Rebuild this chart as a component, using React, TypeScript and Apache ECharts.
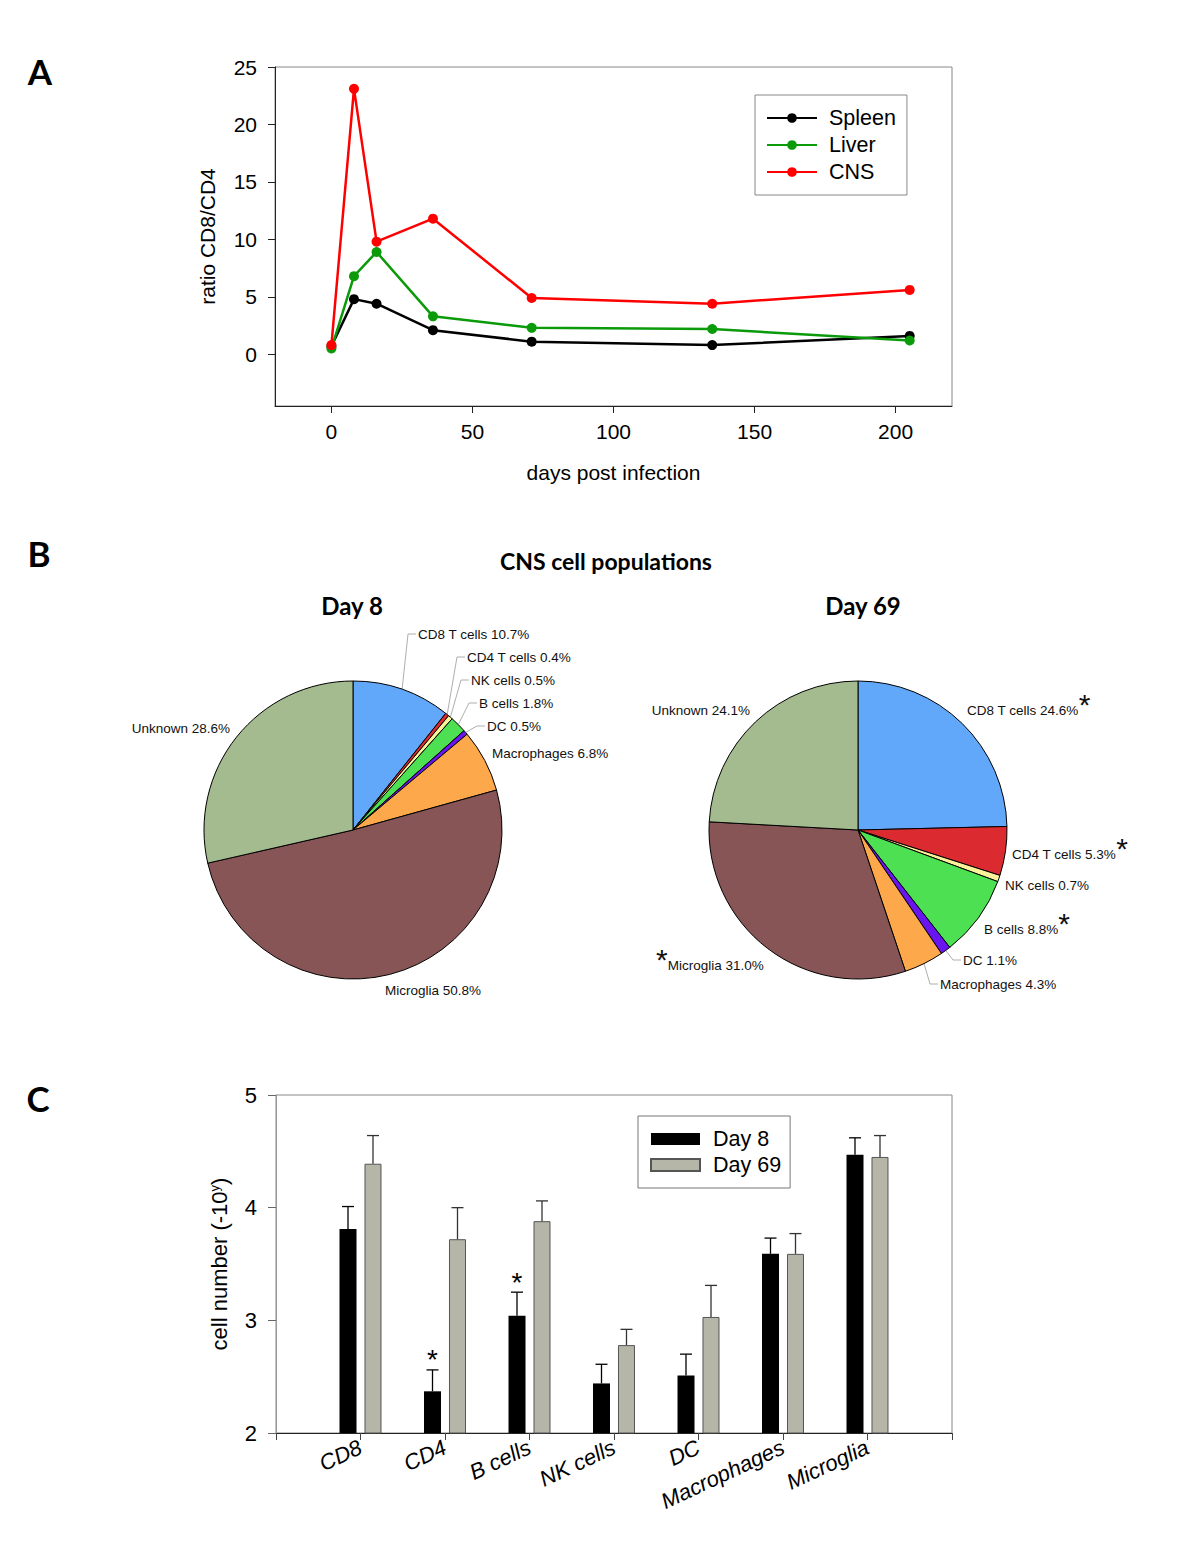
import React, { useEffect, useRef } from 'react';
import * as echarts from 'echarts';

// ---------- Panel A data ----------
const days = [0, 8, 16, 36, 71, 135, 205];
const spleen = [0.7, 4.8, 4.4, 2.1, 1.1, 0.8, 1.6];
const liver = [0.5, 6.8, 8.9, 3.3, 2.3, 2.2, 1.2];
const cns = [0.8, 23.1, 9.8, 11.8, 4.9, 4.4, 5.6];
const xTicksA = [0, 50, 100, 150, 200];
const yTicksA = [0, 5, 10, 15, 20, 25];

// ---------- Panel B data ----------
const pieNames = ['CD8 T cells', 'CD4 T cells', 'NK cells', 'B cells', 'DC', 'Macrophages', 'Microglia', 'Unknown'];
const day8Pct = [10.7, 0.4, 0.5, 1.8, 0.5, 6.8, 50.8, 28.6];
const day69Pct = [24.6, 5.3, 0.7, 8.8, 1.1, 4.3, 31.0, 24.1];
const day69Sig = [true, true, false, true, false, false, true, false];

// ---------- Panel C data ----------
const barCats = ['CD8', 'CD4', 'B cells', 'NK cells', 'DC', 'Macrophages', 'Microglia'];
const day8Mean = [3.81, 2.37, 3.04, 2.44, 2.51, 3.59, 4.47];
const day8SE = [0.2, 0.19, 0.21, 0.17, 0.19, 0.14, 0.15];
const day69Mean = [4.39, 3.72, 3.88, 2.78, 3.03, 3.59, 4.45];
const day69SE = [0.25, 0.28, 0.18, 0.14, 0.28, 0.18, 0.19];
const day8Sig = [false, true, true, false, false, false, false];

// ---------- styles / layout ----------
const FONT = '"Liberation Sans", Arial, sans-serif';
const BOLD = 'Lato, "Open Sans", sans-serif';
const pieColors = ['#62a8fa', '#dc2b30', '#fbf29a', '#4de052', '#6a14f0', '#fca84b', '#875555', '#a3bb8f'];
const day8LabelPos: [number, number, string][] = [
  [418, 634, 'left'], [467, 657, 'left'], [471, 680, 'left'], [479, 703, 'left'],
  [487, 726, 'left'], [492, 753, 'left'], [385, 990, 'left'], [230, 728, 'right'],
];
const day8Leader = [true, true, true, true, true, false, false, false];
const day69LabelPos: [number, number, string][] = [
  [967, 710, 'left'], [1012, 854, 'left'], [1005, 885, 'left'], [984, 929, 'left'],
  [963, 960, 'left'], [940, 984, 'left'], [656, 965, 'left'], [750, 710, 'right'],
];
const day69Leader = [false, false, false, false, true, true, false, false];
const starBefore = [false, false, false, false, false, false, true, false];

function makeLayout(pos: [number, number, string][], leader: boolean[]) {
  return (p: any) => {
    const [x, y, align] = pos[p.dataIndex];
    const out: any = { x, y, align, verticalAlign: 'middle' };
    if (leader[p.dataIndex] && p.labelLinePoints) {
      const p0 = p.labelLinePoints[0];
      out.labelLinePoints = [p0, [x - 10, y], [x - 2, y]];
    }
    return out;
  };
}

function lineSeries(name: string, vals: number[], color: string) {
  return {
    type: 'line', name, xAxisIndex: 0, yAxisIndex: 0,
    data: days.map((d, i) => [d, vals[i]]),
    symbol: 'circle', symbolSize: 10,
    lineStyle: { color, width: 2.5 },
    itemStyle: { color },
  };
}

function errSeries(means: number[], se: number[], sig: boolean[] | null, offset: number, color: string) {
  return {
    type: 'custom', xAxisIndex: 1, yAxisIndex: 1, z: 5,
    data: barCats.map((c, i) => [i + 1, means[i], means[i] + se[i], sig && sig[i] ? 1 : 0]),
    renderItem: (params: any, api: any) => {
      const x = api.value(0);
      const lo = api.coord([x, api.value(1)]);
      const hi = api.coord([x, api.value(2)]);
      const cx = lo[0] + offset;
      const st = { stroke: color, lineWidth: 1.3 };
      const children: any[] = [
        { type: 'line', shape: { x1: cx, y1: lo[1], x2: cx, y2: hi[1] }, style: st },
        { type: 'line', shape: { x1: cx - 6, y1: hi[1], x2: cx + 6, y2: hi[1] }, style: st },
      ];
      if (api.value(3)) {
        children.push({
          type: 'text', x: cx, y: hi[1] - 10,
          style: { text: '*', fontSize: 28, fontFamily: FONT, fill: '#000', align: 'center', verticalAlign: 'middle' },
        });
      }
      return { type: 'group', children };
    },
  };
}

const titleStyle = (text: string, size: number) => ({
  text, fontSize: size, fontWeight: 'bold', fontFamily: BOLD, fill: '#000', align: 'center', verticalAlign: 'middle',
});

const option: any = {
  animation: false,
  backgroundColor: '#fff',
  graphic: [
    { type: 'text', x: 40, y: 71, style: titleStyle('A', 35) },
    { type: 'text', x: 39, y: 553, style: titleStyle('B', 35) },
    { type: 'text', x: 38, y: 1098, style: titleStyle('C', 35) },
    { type: 'text', x: 606, y: 561, style: titleStyle('CNS cell populations', 23) },
    { type: 'text', x: 352, y: 605, style: titleStyle('Day 8', 24) },
    { type: 'text', x: 863, y: 605, style: titleStyle('Day 69', 24) },
  ],
  grid: [
    { left: 275, top: 67, width: 677, height: 339, show: true, borderColor: '#888', borderWidth: 1, containLabel: false, outerBoundsMode: 'none' },
    { left: 276, top: 1095, width: 676, height: 338, show: true, borderColor: '#888', borderWidth: 1, containLabel: false, outerBoundsMode: 'none' },
  ],
  legend: [
    {
      data: ['Spleen', 'Liver', 'CNS'], orient: 'vertical', left: 755, top: 95,
      padding: [12, 11, 12, 11], itemGap: 5, itemWidth: 50, itemHeight: 12,
      borderColor: '#888', borderWidth: 1, backgroundColor: '#fff',
      textStyle: { fontSize: 21.5, fontFamily: FONT, color: '#000', padding: [0, 0, 0, 7] },
    },
    {
      data: ['Day 8', 'Day 69'], orient: 'vertical', left: 638, top: 1116,
      padding: [12, 9, 12, 12], itemGap: 4, itemWidth: 49, itemHeight: 12, icon: 'rect',
      borderColor: '#777', borderWidth: 1, backgroundColor: '#fff',
      textStyle: { fontSize: 21.5, fontFamily: FONT, color: '#000', padding: [0, 0, 0, 8] },
    },
  ],
  xAxis: [
    {
      type: 'value', gridIndex: 0, min: -20, max: 220,
      axisLine: { show: true, onZero: false, lineStyle: { color: '#222', width: 1 } },
      axisTick: { show: true, inside: false, length: 7, customValues: xTicksA, lineStyle: { color: '#222' } },
      axisLabel: { customValues: xTicksA, fontSize: 21, fontFamily: FONT, color: '#000', margin: 15 },
      splitLine: { show: false },
      name: 'days post infection', nameLocation: 'middle', nameGap: 56,
      nameTextStyle: { fontSize: 21, fontFamily: FONT, color: '#000' },
    },
    {
      type: 'value', gridIndex: 1, min: 0, max: 8, interval: 1,
      axisLine: { show: true, onZero: false, lineStyle: { color: '#222', width: 1 } },
      axisTick: { show: true, inside: false, length: 7, lineStyle: { color: '#444' } },
      axisLabel: {
        fontSize: 22, fontFamily: FONT, fontStyle: 'italic', color: '#000', rotate: 25, margin: 13,
        formatter: (v: number) => barCats[v - 1] ?? '',
      },
      splitLine: { show: false },
    },
  ],
  yAxis: [
    {
      type: 'value', gridIndex: 0, min: -4.5, max: 25,
      axisLine: { show: true, onZero: false, lineStyle: { color: '#222', width: 1 } },
      axisTick: { show: true, inside: false, length: 7, customValues: yTicksA, lineStyle: { color: '#222' } },
      axisLabel: { customValues: yTicksA, fontSize: 21, fontFamily: FONT, color: '#000', margin: 18 },
      splitLine: { show: false },
      name: 'ratio CD8/CD4', nameLocation: 'middle', nameGap: 57, nameRotate: 90,
      nameTextStyle: { fontSize: 21, fontFamily: FONT, color: '#000' },
    },
    {
      type: 'value', gridIndex: 1, min: 2, max: 5, interval: 1,
      axisLine: { show: true, onZero: false, lineStyle: { color: '#999', width: 1 } },
      axisTick: { show: true, inside: false, length: 8, lineStyle: { color: '#666' } },
      axisLabel: { fontSize: 22, fontFamily: FONT, color: '#000', margin: 19 },
      splitLine: { show: false },
      name: 'cell number (-10{sup|y})', nameLocation: 'middle', nameGap: 46, nameRotate: 90,
      nameTextStyle: {
        fontSize: 22, fontFamily: FONT, color: '#000',
        rich: { sup: { fontSize: 13, fontFamily: FONT, color: '#000', verticalAlign: 'top', padding: [0, 0, 8, 0] } },
      },
    },
  ],
  series: [
    lineSeries('Spleen', spleen, '#000000'),
    lineSeries('Liver', liver, '#0a9a0a'),
    lineSeries('CNS', cns, '#ff0000'),
    {
      type: 'pie', center: [353, 830], radius: 149, startAngle: 90, clockwise: true,
      avoidLabelOverlap: false,
      data: pieNames.map((n, i) => ({
        name: n, value: day8Pct[i], itemStyle: { color: pieColors[i] }, labelLine: { show: day8Leader[i] },
      })),
      itemStyle: { borderColor: '#000', borderWidth: 1 },
      label: {
        show: true, position: 'outside', fontSize: 13.5, fontFamily: FONT, color: '#111',
        formatter: (p: any) => `${p.name} ${Number(p.value).toFixed(1)}%`,
      },
      labelLine: { show: true, length: 10, length2: 10, lineStyle: { color: '#999', width: 0.8 } },
      labelLayout: makeLayout(day8LabelPos, day8Leader),
    },
    {
      type: 'pie', center: [858, 830], radius: 149, startAngle: 90, clockwise: true,
      avoidLabelOverlap: false,
      data: pieNames.map((n, i) => ({
        name: n, value: day69Pct[i], itemStyle: { color: pieColors[i] }, labelLine: { show: day69Leader[i] },
      })),
      itemStyle: { borderColor: '#000', borderWidth: 1 },
      label: {
        show: true, position: 'outside', fontSize: 13.5, fontFamily: FONT, color: '#111',
        formatter: (p: any) => {
          const t = `{t|${p.name} ${Number(p.value).toFixed(1)}%}`;
          if (!day69Sig[p.dataIndex]) return t;
          return starBefore[p.dataIndex] ? `{s|*}${t}` : `${t}{s|*}`;
        },
        rich: {
          t: { fontSize: 13.5, fontFamily: FONT, color: '#111' },
          s: { fontSize: 30, fontFamily: FONT, color: '#111', padding: [0, 0, 12, 0] },
        },
      },
      labelLine: { show: true, length: 10, length2: 10, lineStyle: { color: '#999', width: 0.8 } },
      labelLayout: makeLayout(day69LabelPos, day69Leader),
    },
    {
      type: 'bar', name: 'Day 8', xAxisIndex: 1, yAxisIndex: 1, clip: true,
      data: barCats.map((c, i) => [i + 1, day8Mean[i]]),
      barWidth: 17, barGap: '47%',
      itemStyle: { color: '#000000' },
    },
    {
      type: 'bar', name: 'Day 69', xAxisIndex: 1, yAxisIndex: 1, clip: true,
      data: barCats.map((c, i) => [i + 1, day69Mean[i]]),
      barWidth: 17, barGap: '47%',
      itemStyle: { color: '#b5b5a8', borderColor: '#555', borderWidth: 1 },
    },
    errSeries(day8Mean, day8SE, day8Sig, -12.5, '#000'),
    errSeries(day69Mean, day69SE, null, 12.5, '#333'),
  ],
};

export default function App() {
  const ref = useRef<HTMLDivElement>(null);
  useEffect(() => {
    const chart = echarts.init(ref.current!, null, { renderer: 'svg' });
    chart.setOption(option);
    return () => chart.dispose();
  }, []);
  return (
    <div
      ref={ref}
      style={{ position: 'absolute', left: 0, top: 0, width: 1200, height: 1553, background: '#fff' }}
    />
  );
}
